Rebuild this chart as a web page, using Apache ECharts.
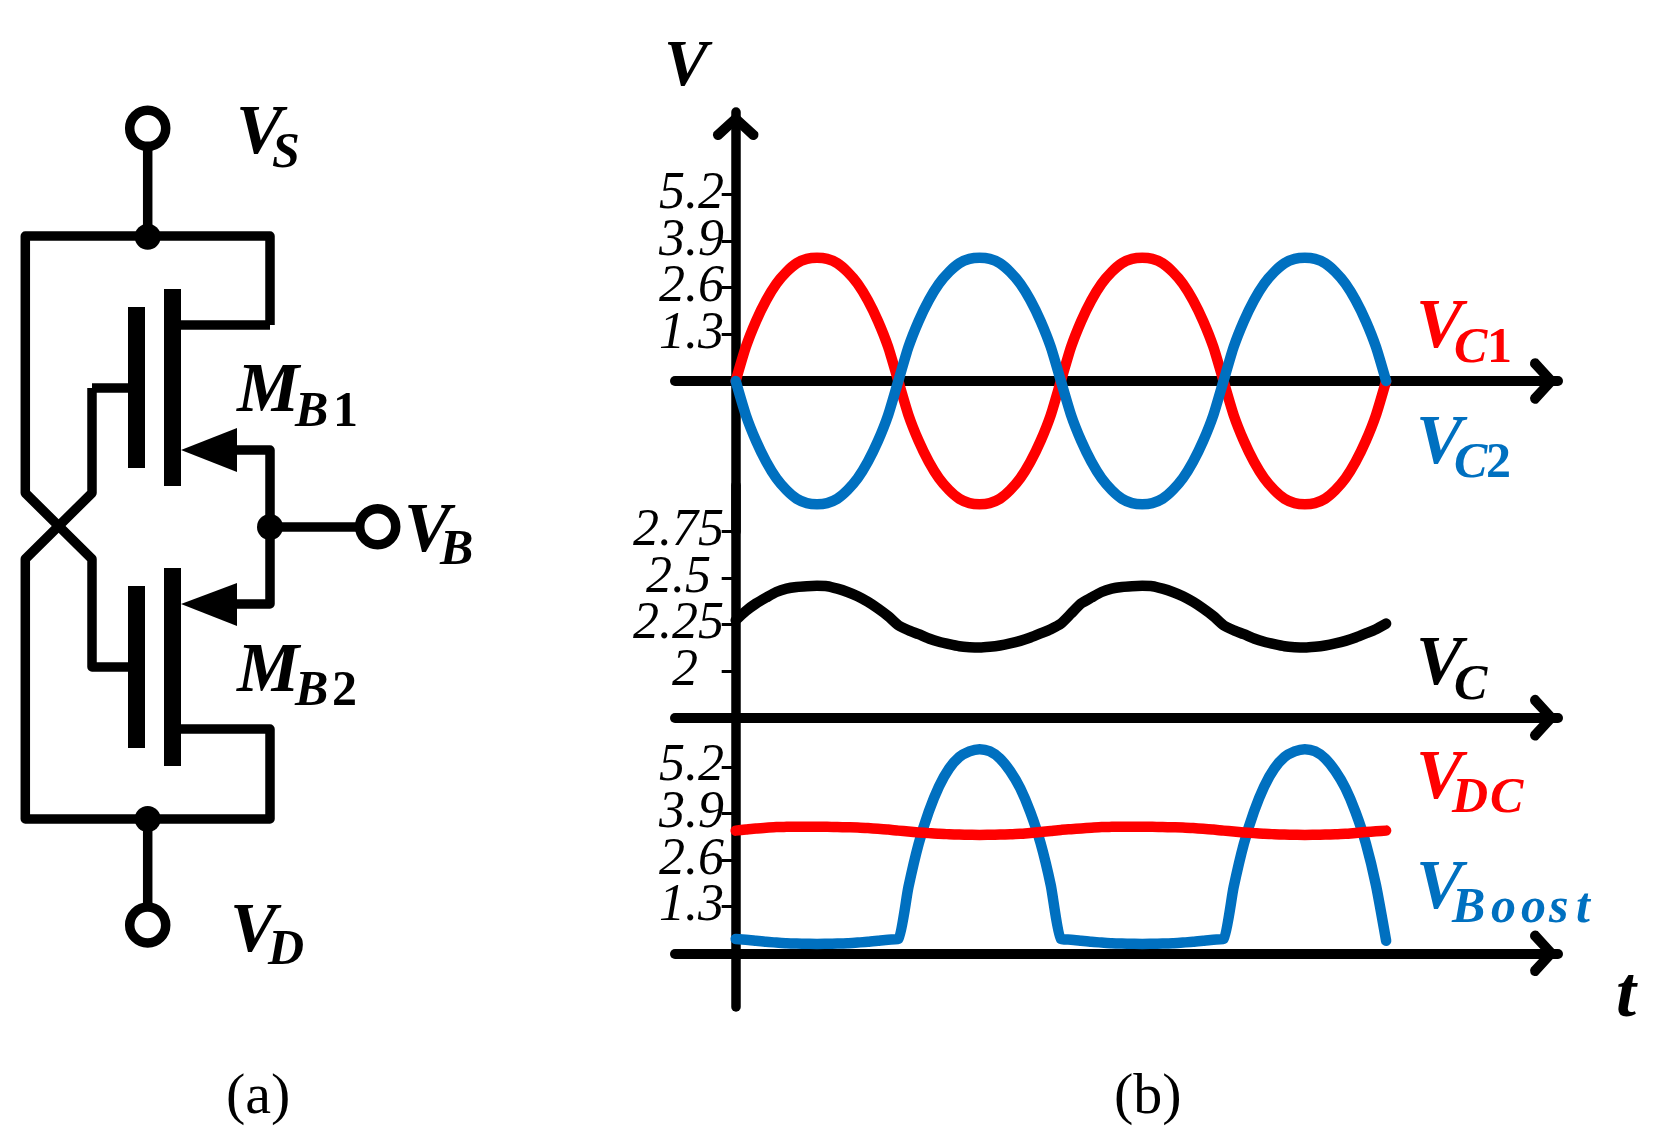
<!DOCTYPE html>
<html>
<head>
<meta charset="utf-8">
<style>
  html, body { margin: 0; background: #fff; }
  #chart-container { width: 1653px; height: 1146px; }
</style>
<script src="https://cdn.jsdelivr.net/npm/echarts@6/dist/echarts.min.js"></script>
</head>
<body>
<div id="chart-container"></div>
<script>
// time, in half periods of the clock
var t = [
  0, 0.0625, 0.125, 0.1875, 0.25, 0.3125, 0.375, 0.4375,
  0.5, 0.5625, 0.625, 0.6875, 0.75, 0.8125, 0.875, 0.9375,
  1, 1.0625, 1.125, 1.1875, 1.25, 1.3125, 1.375, 1.4375,
  1.5, 1.5625, 1.625, 1.6875, 1.75, 1.8125, 1.875, 1.9375,
  2, 2.0625, 2.125, 2.1875, 2.25, 2.3125, 2.375, 2.4375,
  2.5, 2.5625, 2.625, 2.6875, 2.75, 2.8125, 2.875, 2.9375,
  3, 3.0625, 3.125, 3.1875, 3.25, 3.3125, 3.375, 3.4375,
  3.5, 3.5625, 3.625, 3.6875, 3.75, 3.8125, 3.875, 3.9375, 4
];

var vC1 = [
  0, 0.95, 1.67, 2.25, 2.71, 3.04, 3.28, 3.4, 3.43, 3.4, 3.28, 3.04, 2.71, 2.25, 1.67, 0.95,
  0, -0.95, -1.67, -2.25, -2.71, -3.04, -3.28, -3.4, -3.43, -3.4, -3.28, -3.04, -2.71, -2.25, -1.67, -0.95,
  0, 0.95, 1.67, 2.25, 2.71, 3.04, 3.28, 3.4, 3.43, 3.4, 3.28, 3.04, 2.71, 2.25, 1.67, 0.95,
  0, -0.95, -1.67, -2.25, -2.71, -3.04, -3.28, -3.4, -3.43, -3.4, -3.28, -3.04, -2.71, -2.25, -1.67, -0.95, 0
];
var vC2 = [
  0, -0.95, -1.67, -2.25, -2.71, -3.04, -3.28, -3.4, -3.43, -3.4, -3.28, -3.04, -2.71, -2.25, -1.67, -0.95,
  0, 0.95, 1.67, 2.25, 2.71, 3.04, 3.28, 3.4, 3.43, 3.4, 3.28, 3.04, 2.71, 2.25, 1.67, 0.95,
  0, -0.95, -1.67, -2.25, -2.71, -3.04, -3.28, -3.4, -3.43, -3.4, -3.28, -3.04, -2.71, -2.25, -1.67, -0.95,
  0, 0.95, 1.67, 2.25, 2.71, 3.04, 3.28, 3.4, 3.43, 3.4, 3.28, 3.04, 2.71, 2.25, 1.67, 0.95, 0
];
var vC = [
  2.274, 2.324, 2.364, 2.396, 2.426, 2.444, 2.453, 2.457, 2.459, 2.457, 2.444, 2.426, 2.403, 2.373, 2.337, 2.296,
  2.247, 2.22, 2.199, 2.176, 2.158, 2.145, 2.134, 2.129, 2.127, 2.131, 2.138, 2.149, 2.163, 2.181, 2.203, 2.226,
  2.256, 2.31, 2.364, 2.396, 2.426, 2.444, 2.453, 2.457, 2.459, 2.457, 2.444, 2.426, 2.403, 2.373, 2.337, 2.296,
  2.247, 2.22, 2.199, 2.176, 2.158, 2.145, 2.134, 2.129, 2.127, 2.131, 2.138, 2.149, 2.163, 2.181, 2.203, 2.226, 2.256
];
var vDC = [
  3.42, 3.45, 3.48, 3.5, 3.52, 3.525, 3.53, 3.53, 3.53, 3.53, 3.52, 3.515, 3.51, 3.49, 3.47, 3.45,
  3.42, 3.395, 3.37, 3.35, 3.33, 3.32, 3.31, 3.305, 3.3, 3.305, 3.31, 3.32, 3.33, 3.355, 3.38, 3.41,
  3.44, 3.46, 3.48, 3.5, 3.52, 3.525, 3.53, 3.53, 3.53, 3.53, 3.52, 3.515, 3.51, 3.49, 3.47, 3.45,
  3.42, 3.395, 3.37, 3.35, 3.33, 3.32, 3.31, 3.305, 3.3, 3.305, 3.31, 3.32, 3.33, 3.355, 3.38, 3.4, 3.42
];
var vBoost = [
  0.4, 0.38, 0.35, 0.32, 0.3, 0.28, 0.27, 0.265, 0.26, 0.265, 0.27, 0.28, 0.3, 0.32, 0.35, 0.38,
  0.4, 1.85, 3.05, 3.95, 4.65, 5.15, 5.47, 5.63, 5.69, 5.63, 5.43, 5.08, 4.6, 3.93, 3.07, 1.9,
  0.4, 0.38, 0.35, 0.32, 0.3, 0.28, 0.27, 0.265, 0.26, 0.265, 0.27, 0.28, 0.3, 0.32, 0.35, 0.38,
  0.4, 1.85, 3.05, 3.95, 4.65, 5.15, 5.47, 5.63, 5.69, 5.63, 5.43, 5.08, 4.6, 3.93, 3.07, 1.9, 0.35
];

// first and last entry of each tick list are never drawn: with showMin/MaxLabel off
// echarts drops those two and skips its overlap check, which else eats the tall labels
var swingTicks = [0, 1.3, 2.6, 3.9, 5.2, 6.5];
var swingLabels = ["", "1.3", "2.6", "3.9", "5.2", ""];
var midTicks = [1.75, 2, 2.25, 2.5, 2.75, 3];
var midLabels = ["", "2  ", "2.25", "2.5 ", "2.75", ""];

var RED = "#ff0000";
var BLUE = "#0070c0";
var BLACK = "#000000";
var SERIF = '"Liberation Serif", serif';
var CHEVRON = "path://M24 0L47 21A5.5 5.5 0 0 1 39 28L24 14L9 28A5.5 5.5 0 0 1 1 21Z";

function pairs(values) {
  return t.map(function (x, i) { return [x, values[i]]; });
}

function xAxisFor(gridIndex, onZero) {
  return {
    type: "value",
    gridIndex: gridIndex,
    min: -0.3733,
    max: 5.057,
    position: "bottom",
    splitLine: { show: false },
    axisTick: { show: false },
    axisLabel: { show: false },
    axisLine: {
      show: true,
      onZero: onZero,
      symbol: ["none", CHEVRON],
      symbolSize: [48, 28],
      symbolOffset: [0, -14],
      lineStyle: { color: BLACK, width: 10 },
    },
  };
}

function yAxisFor(gridIndex, min, max, ticks, tickLabels, arrow) {
  return {
    type: "value",
    gridIndex: gridIndex,
    min: min,
    max: max,
    splitLine: { show: false },
    axisLine: {
      show: true,
      onZero: true,
      symbol: arrow ? ["none", CHEVRON] : "none",
      symbolSize: [48, 28],
      symbolOffset: [0, -14],
      lineStyle: { color: BLACK, width: 9.5 },
    },
    axisTick: {
      show: true,
      length: 14,
      customValues: ticks,
      lineStyle: { color: BLACK, width: 3 },
    },
    axisLabel: {
      show: true,
      // labels stay at the grid edge when the axis line sits on zero
      margin: -49,
      showMinLabel: false,
      showMaxLabel: false,
      customValues: ticks,
      formatter: function (v) {
        return tickLabels[ticks.indexOf(v)];
      },
      color: BLACK,
      fontFamily: SERIF,
      fontStyle: "italic",
      fontSize: 52,
    },
  };
}

function curve(name, values, color, axisIndex) {
  return {
    name: name,
    type: "line",
    xAxisIndex: axisIndex,
    yAxisIndex: axisIndex,
    data: pairs(values),
    smooth: 0.2,
    symbol: "none",
    lineStyle: { color: color, width: 10.5, cap: "round", join: "round" },
  };
}

// schematic + labels are plain drawing, no data in there
function wire(points, width) {
  return {
    type: "polyline",
    shape: { points: points },
    style: { stroke: BLACK, lineWidth: width || 9.5, fill: null, lineJoin: "round" },
  };
}
function bar(x, y, w, h) {
  return { type: "rect", shape: { x: x, y: y, width: w, height: h }, style: { fill: BLACK } };
}
function dot(x, y, r) {
  return { type: "circle", shape: { cx: x, cy: y, r: r }, style: { fill: BLACK } };
}
function pin(x, y, r) {
  return {
    type: "circle",
    shape: { cx: x, cy: y, r: r },
    style: { fill: "#fff", stroke: BLACK, lineWidth: 9.5 },
  };
}
function arrowHead(top, bottom, tip) {
  return {
    type: "polygon",
    shape: { points: [[181, tip], [237, top], [237, bottom]] },
    style: { fill: BLACK },
  };
}
function label(text, x, baseline, size, color, style) {
  return {
    type: "text",
    style: {
      text: text,
      x: x,
      y: baseline - size * 0.27,
      fill: color,
      verticalAlign: "middle",
      font: (style || "italic bold") + " " + size + "px " + SERIF,
    },
  };
}
// big V or M with a subscript next to it
function symbolLabel(letter, x, baseline, color, subs, subBaseline) {
  var items = [label(letter, x, baseline, 70, color)];
  subs.forEach(function (s) {
    var upright = /[0-9]/.test(s[0]);
    items.push(label(s[0], s[1], subBaseline, 50, color, upright ? "bold" : "italic bold"));
  });
  return items;
}

var schematic = [
  wire([[147.7, 128], [147.7, 236]]),
  wire([[92, 388], [128, 388]]),
  wire([[270, 325], [270, 236], [25.3, 236], [25.3, 493], [92, 559], [92, 667], [128, 667]]),
  wire([[92, 388], [92, 493], [25.3, 559], [25.3, 819], [270, 819], [270, 729], [181, 729]]),
  wire([[181, 325], [270, 325]]),
  wire([[237, 450], [270, 450], [270, 604], [237, 604]]),
  wire([[270, 527], [377, 527]]),
  wire([[147.7, 819], [147.7, 925]]),
  bar(128, 307, 17, 161),
  bar(164, 289, 17, 197),
  bar(128, 586, 17, 162),
  bar(164, 568, 17, 198),
  arrowHead(428, 472, 450),
  arrowHead(583, 626, 604),
  dot(147.7, 236.7, 13),
  dot(270, 527, 13),
  dot(147.7, 819, 13),
  pin(147.7, 128.3, 18),
  pin(377.7, 526.7, 18),
  pin(147.7, 925, 18),
];

var labels = [].concat(
  symbolLabel("V", 236, 154, BLACK, [["S", 272]], 168),
  symbolLabel("M", 237, 412, BLACK, [["B", 295], ["1", 333]], 427),
  symbolLabel("V", 404, 552, BLACK, [["B", 440]], 565),
  symbolLabel("M", 237, 692, BLACK, [["B", 295], ["2", 332]], 706),
  symbolLabel("V", 230, 952, BLACK, [["D", 268]], 965),
  symbolLabel("V", 1416, 348, RED, [["C", 1454], ["1", 1487]], 363),
  symbolLabel("V", 1416, 464, BLUE, [["C", 1454], ["2", 1486]], 478),
  symbolLabel("V", 1416, 685, BLACK, [["C", 1454]], 700),
  symbolLabel("V", 1416, 799, RED, [["D", 1452], ["C", 1490]], 813),
  symbolLabel("V", 1416, 909, BLUE, [["B", 1452], ["o", 1491], ["o", 1521], ["s", 1549], ["t", 1576]], 923),
  [
    label("V", 664, 86, 66, BLACK),
    label("t", 1616, 1017, 72, BLACK),
    label("(a)", 226, 1113, 58, BLACK, "normal"),
    label("(b)", 1114, 1113, 58, BLACK, "normal"),
  ]
);

var myChart = echarts.init(document.getElementById("chart-container"));

var option = {
  animation: false,
  backgroundColor: "#fff",
  grid: [
    { left: 675, width: 883, top: 112, height: 419.7 },
    { left: 675, width: 883, top: 485.2, height: 232.5 },
    { left: 675, width: 883, top: 717.7, height: 289.3 },
  ],
  xAxis: [xAxisFor(0, true), xAxisFor(1, false), xAxisFor(2, true)],
  yAxis: [
    yAxisFor(0, -4.198, 7.493, swingTicks, swingLabels, true),
    yAxisFor(1, 1.75, 3, midTicks, midLabels, false),
    yAxisFor(2, -1.497, 6.568, swingTicks, swingLabels, false),
  ],
  series: [
    curve("VC1", vC1, RED, 0),
    curve("VC2", vC2, BLUE, 0),
    curve("VC", vC, BLACK, 1),
    curve("VBoost", vBoost, BLUE, 2),
    curve("VDC", vDC, RED, 2),
  ],
  graphic: { elements: schematic.concat(labels) },
};

option && myChart.setOption(option);
</script>
</body>
</html>
